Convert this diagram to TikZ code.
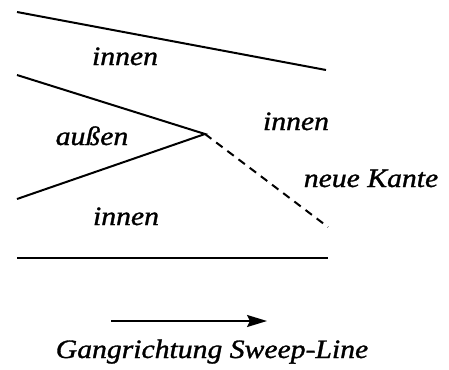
\documentclass[tikz,border=0pt]{standalone}
\usepackage{fontspec}
\setmainfont{Liberation Serif}[FakeStretch=1.12, FakeBold=1.2]
\usetikzlibrary{arrows.meta}

\begin{document}
\begin{tikzpicture}[
  x=1pt, y=-1pt,
  kante/.style={draw, line width=2pt},
  neukante/.style={draw, line width=2pt, dash pattern=on 8pt off 6pt},
  every node/.style={font=\fontsize{26.5}{30}\selectfont\itshape, inner sep=0pt, anchor=base}
]
\useasboundingbox (0,0) rectangle (449,369);
% Kanten
\coordinate (o1) at (17,12);
\coordinate (o2) at (326,70);
\coordinate (m1) at (17,75);
\coordinate (spitze) at (205,134);
\coordinate (m2) at (17,199);
\coordinate (neu) at (328,227);
\coordinate (u1) at (17,258);
\coordinate (u2) at (328,258);
\path[kante] (o1) -- (o2);
\path[kante] (m1) -- (spitze) -- (m2);
\path[neukante] (spitze) -- (neu);
\path[kante] (u1) -- (u2);
% Bereiche
\node (innenoben) at (125,65) {innen};
\node (aussen) at (92,145) {außen};
\node (innenrechts) at (296,130) {innen};
\node (neuekante) at (371,187) {neue Kante};
\node (innenunten) at (126,225) {innen};
% Richtung
\coordinate (p1) at (111,321);
\coordinate (p2) at (267,321);
\draw[line width=2pt, -{Stealth[length=20pt, width=12pt, inset=3pt]}] (p1) -- (p2);
\node (richtung) at (212,358) {Gangrichtung Sweep-Line};
\end{tikzpicture}
\end{document}
